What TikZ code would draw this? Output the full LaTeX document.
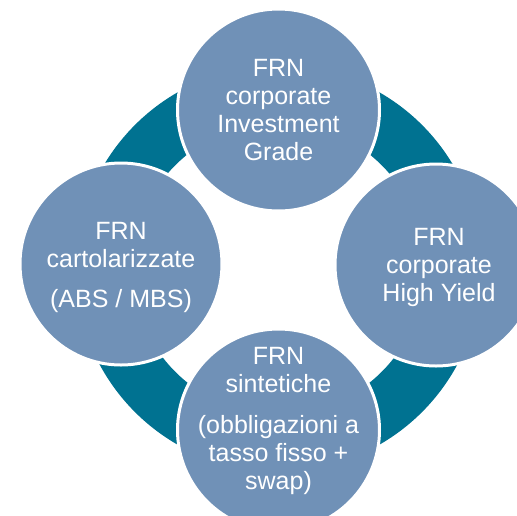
\documentclass[tikz,border=0pt]{standalone}
\usepackage{fontspec}
\setmainfont{Liberation Sans}
\definecolor{bubblefill}{RGB}{112,145,183}
\definecolor{ringteal}{RGB}{0,114,145}

\begin{document}
\begin{tikzpicture}[x=1pt,y=-1pt,
  bubble/.style={circle,fill=bubblefill,draw=white,line width=3pt,minimum size=202pt,inner sep=0pt},
  caption/.style={text=white,align=center,font=\fontsize{25}{28}\selectfont}]
\useasboundingbox (0,0) rectangle (517,515);
\clip (0,0) rectangle (517,515);
% ring behind the four bubbles
\coordinate (hub) at (278.5,268.5);
\fill[ringteal,even odd rule] (hub) circle[radius=203pt] (hub) circle[radius=146pt];
% bubbles
\node[bubble] (ig) at (278.5,110) {};
\node[bubble] (cart) at (121,264) {};
\node[bubble] (hy) at (436,265) {};
\node[bubble] (sint) at (278.5,430) {};
% captions
\node[caption] (igtext) at (ig.center) {FRN\\corporate\\Investment\\Grade};
\node[caption,yshift=-3pt] (carttext) at (cart.center) {FRN\\cartolarizzate\\[12pt](ABS / MBS)};
\node[caption,xshift=3pt,yshift=-2pt] (hytext) at (hy.center) {FRN\\corporate\\High Yield};
\node[caption,yshift=9pt] (sinttext) at (sint.center) {FRN\\sintetiche\\[13pt](obbligazioni a\\tasso fisso +\\swap)};
\end{tikzpicture}
\end{document}
